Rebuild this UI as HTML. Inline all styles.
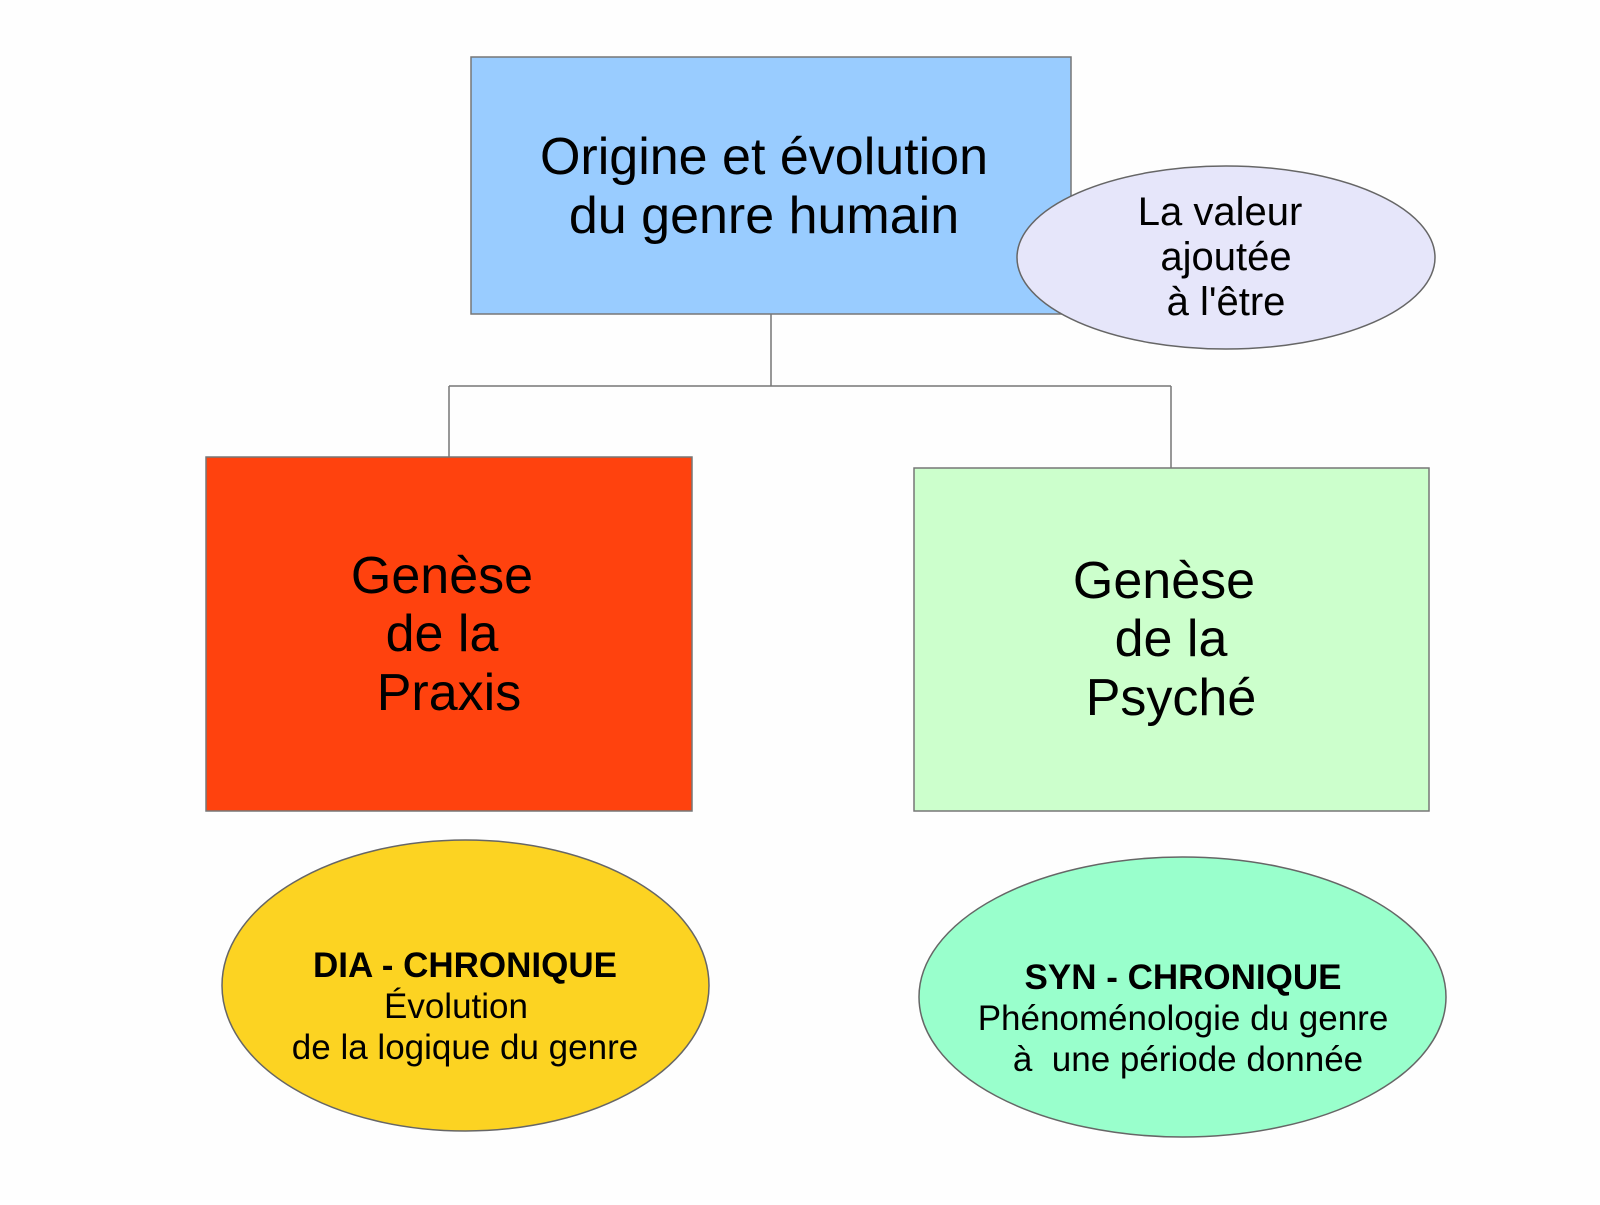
<!DOCTYPE html>
<html><head><meta charset="utf-8"><style>html,body{margin:0;padding:0;background:#fff}</style></head>
<body>
<svg width="1600" height="1200" viewBox="0 0 1600 1200" xmlns="http://www.w3.org/2000/svg" font-family="Liberation Sans, sans-serif">
<rect width="1600" height="1200" fill="#fefefe"/>
<g stroke="#777" stroke-width="1.5" fill="none">
<path d="M771 314 V386 M449 386 H1171 M449 386 V457 M1171 386 V468"/>
</g>
<rect x="471" y="57" width="600" height="257" fill="#99ccff" stroke="#777" stroke-width="1.5"/>
<ellipse cx="1226" cy="257.5" rx="209" ry="91.5" fill="#e6e6fa" stroke="#666" stroke-width="1.5"/>
<rect x="206" y="457" width="486" height="354" fill="#ff420e" stroke="#777" stroke-width="1.5"/>
<rect x="914" y="468" width="515" height="343" fill="#ccffcc" stroke="#777" stroke-width="1.5"/>
<ellipse cx="465.5" cy="985.5" rx="243.5" ry="145.5" fill="#fcd322" stroke="#666" stroke-width="1.5"/>
<ellipse cx="1182.5" cy="997" rx="263.5" ry="140" fill="#99ffcc" stroke="#666" stroke-width="1.5"/>
<g fill="#000" text-anchor="middle">
<text x="764" y="174" font-size="52">Origine et évolution</text>
<text x="764" y="233" font-size="52">du genre humain</text>
<text x="1220" y="225" font-size="40">La valeur</text>
<text x="1226" y="270" font-size="40">ajoutée</text>
<text x="1226" y="315" font-size="40">à l'être</text>
<text x="442" y="593" font-size="52">Genèse</text>
<text x="442" y="651" font-size="52">de la</text>
<text x="449" y="710" font-size="52">Praxis</text>
<text x="1164" y="598" font-size="52">Genèse</text>
<text x="1171" y="656" font-size="52">de la</text>
<text x="1171" y="715" font-size="52">Psyché</text>
<text x="465" y="977" font-size="35" font-weight="bold">DIA - CHRONIQUE</text>
<text x="456" y="1018" font-size="35">Évolution</text>
<text x="465" y="1059" font-size="35">de la logique du genre</text>
<text x="1183" y="989" font-size="35" font-weight="bold">SYN - CHRONIQUE</text>
<text x="1183" y="1030" font-size="35">Phénoménologie du genre</text>
<text x="1188" y="1071" font-size="35" xml:space="preserve">à  une période donnée</text>
</g>
</svg>
</body></html>
